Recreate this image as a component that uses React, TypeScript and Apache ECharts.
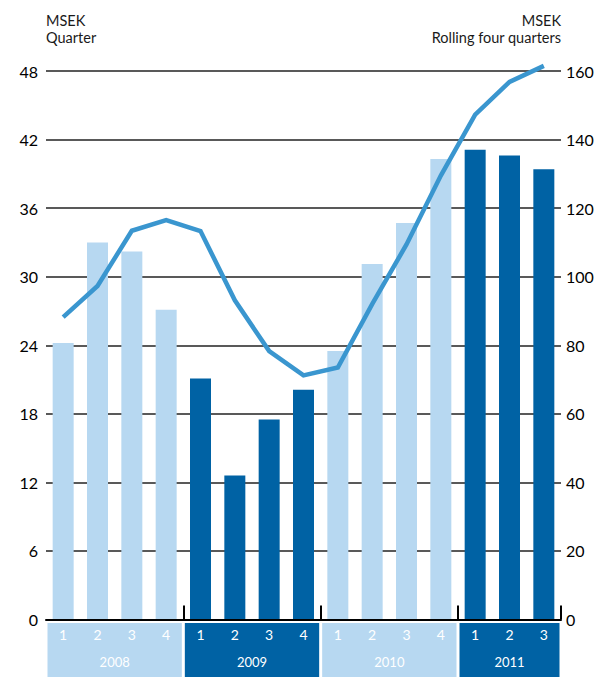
import React, { useEffect, useRef } from "react";
import * as echarts from "echarts";

const years = ["2008", "2009", "2010", "2011"];
const quarters = ["1", "2", "3", "4", "1", "2", "3", "4", "1", "2", "3", "4", "1", "2", "3"];
const quarterYear = [0, 0, 0, 0, 1, 1, 1, 1, 2, 2, 2, 2, 3, 3, 3];
// MSEK per quarter (left axis)
const quarterlyResult = [24.2, 33.0, 32.2, 27.1, 21.1, 12.6, 17.5, 20.1, 23.5, 31.1, 34.7, 40.3, 41.1, 40.6, 39.4];
// MSEK, rolling four quarters (right axis)
const rollingFourQuarters = [88.2, 97.3, 113.4, 116.5, 113.3, 93.1, 78.3, 71.2, 73.5, 92.0, 109.4, 129.5, 147.3, 156.8, 161.5];
// axis captions, one entry per line
const leftCaption = ["MSEK", "Quarter"];
const rightCaption = ["MSEK", "Rolling four quarters"];

const LIGHT = "#b7d8f1";
const DARK = "#0062a4";
const LINE = "#3a96cf";
const FONT = "Lato, 'Open Sans', sans-serif";

export default function App() {
  const ref = useRef<HTMLDivElement>(null);

  useEffect(() => {
    if (!ref.current) return;
    const chart = echarts.init(ref.current, undefined, { renderer: "svg" });

    // one band per year: [first quarter index, last quarter index, year index]
    const bands: number[][] = years.map((_, y) => {
      const idx = quarterYear.map((v, i) => (v === y ? i : -1)).filter((i) => i >= 0);
      return [idx[0], idx[idx.length - 1], y];
    });

    const barColor = (i: number) => (quarterYear[i] % 2 === 0 ? LIGHT : DARK);

    const captionText = (lines: string[], x: number, align: string) =>
      lines.map((t, k) => ({
        type: "text",
        x,
        y: 12.5 + k * 17.5,
        style: {
          text: t,
          fill: "#1a1a1a",
          font: `14.5px ${FONT}`,
          align,
          verticalAlign: "top",
        },
      }));

    chart.setOption({
      animation: false,
      textStyle: { fontFamily: FONT },
      grid: [
        { left: 46, right: 42, top: 71, bottom: 57.5 },
        { left: 46, right: 42, top: 623, height: 54 },
      ],
      graphic: [...captionText(leftCaption, 46, "left"), ...captionText(rightCaption, 561, "right")],
      xAxis: [
        {
          type: "category",
          gridIndex: 0,
          data: quarters,
          boundaryGap: true,
          axisLine: { show: true, lineStyle: { color: "#000", width: 2 } },
          axisTick: {
            show: true,
            inside: true,
            length: 14,
            interval: (i: number) => i > 0 && i < quarters.length && quarterYear[i] !== quarterYear[i - 1],
            lineStyle: { color: "#000", width: 2 },
          },
          axisLabel: { show: false },
          splitLine: { show: false },
          z: 3,
        },
        {
          type: "category",
          gridIndex: 1,
          data: quarters,
          boundaryGap: true,
          axisLine: { show: false },
          axisTick: { show: false },
          axisLabel: { show: false },
        },
      ],
      yAxis: [
        {
          type: "value",
          gridIndex: 0,
          min: 0,
          max: 48,
          interval: 6,
          axisLine: { show: false },
          axisTick: { show: false },
          axisLabel: { color: "#000", fontSize: 16, margin: 8, fontFamily: FONT },
          splitLine: { show: true, lineStyle: { color: "#222", width: 1.5 } },
        },
        {
          type: "value",
          gridIndex: 0,
          position: "right",
          min: 0,
          max: 160,
          interval: 20,
          axisLine: { show: false },
          axisTick: { show: false },
          axisLabel: { color: "#000", fontSize: 16, margin: 5, fontFamily: FONT },
          splitLine: { show: false },
        },
        {
          type: "value",
          gridIndex: 1,
          min: 0,
          max: 1,
          show: false,
        },
      ],
      series: [
        {
          type: "bar",
          xAxisIndex: 0,
          yAxisIndex: 0,
          barWidth: 21,
          data: quarterlyResult.map((v, i) => ({ value: v, itemStyle: { color: barColor(i) } })),
          z: 2,
        },
        {
          type: "line",
          xAxisIndex: 0,
          yAxisIndex: 1,
          data: rollingFourQuarters,
          symbol: "none",
          clip: false,
          lineStyle: { color: LINE, width: 4.5, cap: "butt", join: "miter" },
          z: 4,
        },
        {
          type: "custom",
          xAxisIndex: 1,
          yAxisIndex: 2,
          data: bands,
          renderItem: (params: any, api: any) => {
            const start = api.value(0);
            const end = api.value(1);
            const yearIdx = api.value(2);
            const cs = params.coordSys;
            const bw = api.size([1, 0])[0];
            const x0 = api.coord([start, 0])[0] - bw / 2;
            const x1 = api.coord([end, 0])[0] + bw / 2;
            const children: any[] = [
              {
                type: "rect",
                shape: { x: x0 + 1.5, y: cs.y, width: x1 - x0 - 3, height: cs.height },
                style: { fill: yearIdx % 2 === 0 ? LIGHT : DARK },
              },
            ];
            for (let i = start; i <= end; i++) {
              children.push({
                type: "text",
                x: api.coord([i, 0])[0],
                y: cs.y + 11.5,
                style: {
                  text: quarters[i],
                  fill: "#fff",
                  font: `14px ${FONT}`,
                  align: "center",
                  verticalAlign: "middle",
                },
              });
            }
            children.push({
              type: "text",
              x: (x0 + x1) / 2,
              y: cs.y + 39,
              style: {
                text: years[yearIdx],
                fill: "#fff",
                font: `13px ${FONT}`,
                align: "center",
                verticalAlign: "middle",
              },
            });
            return { type: "group", children };
          },
        },
      ],
    });

    return () => chart.dispose();
  }, []);

  return (
    <div
      ref={ref}
      style={{ position: "absolute", left: 0, top: 0, width: 603, height: 677 }}
    />
  );
}
